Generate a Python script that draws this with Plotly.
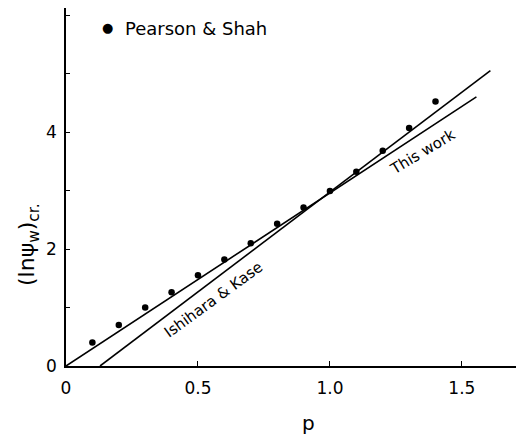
import plotly.graph_objects as go

# Pearson & Shah data points
ps_p = [0.1, 0.2, 0.3, 0.4, 0.5, 0.6, 0.7, 0.8, 0.9, 1.0, 1.1, 1.2, 1.3, 1.4]
ps_y = [0.40, 0.70, 1.00, 1.26, 1.55, 1.82, 2.10, 2.43, 2.71, 2.99, 3.32, 3.68, 4.07, 4.52]

# This work line (end points)
tw_p = [0.0, 1.555]
tw_y = [0.0, 4.60]

# Ishihara & Kase line (end points)
ik_p = [0.129, 1.608]
ik_y = [0.0, 5.05]

x_tickvals = [0, 0.5, 1.0, 1.5]
x_ticktext = ["0", "0.5", "1.0", "1.5"]
y_tickvals = [0, 2, 4]
y_ticktext = ["0", "2", "4"]

FONT = "DejaVu Sans"
W, H = 516, 436
ML, MR, MT, MB = 66, 0, 8, 70
pw, ph = W - ML - MR, H - MT - MB


def px(x):
    return (x - ML) / pw


def py(y):
    return (H - MB - y) / ph


fig = go.Figure()
fig.add_trace(go.Scatter(x=tw_p, y=tw_y, mode="lines",
                         line=dict(color="black", width=1.6), showlegend=False))
fig.add_trace(go.Scatter(x=ik_p, y=ik_y, mode="lines",
                         line=dict(color="black", width=1.6), showlegend=False))
fig.add_trace(go.Scatter(x=ps_p, y=ps_y, mode="markers",
                         marker=dict(color="black", size=6.5), showlegend=False))

fig.update_layout(
    width=W, height=H,
    margin=dict(l=ML, r=MR, t=MT, b=MB, autoexpand=False),
    paper_bgcolor="white", plot_bgcolor="white",
    font=dict(family=FONT, color="black", size=17),
    xaxis=dict(range=[0, 1.705], showgrid=False, zeroline=False,
               showline=True, linecolor="black", linewidth=1.5,
               ticks="inside", ticklen=5, tickwidth=1.3, tickcolor="black",
               tickvals=x_tickvals, ticktext=x_ticktext,
               tickfont=dict(size=17), ticklabelstandoff=6),
    yaxis=dict(range=[0, 6.12], showgrid=False, zeroline=False,
               showline=True, linecolor="black", linewidth=1.5,
               ticks="inside", ticklen=4, tickwidth=1.3, tickcolor="black",
               tickvals=y_tickvals, ticktext=y_ticktext,
               minor=dict(ticks="inside", ticklen=4, tickwidth=1.3,
                          tickcolor="black", dtick=1, showgrid=False),
               tickfont=dict(size=17), ticklabelstandoff=4),
    annotations=[
        dict(text="p", x=px(308), y=py(423), xref="paper", yref="paper",
             xanchor="center", yanchor="middle", showarrow=False,
             font=dict(size=20)),
        dict(text="(lnψ<sub>w</sub>)<sub>cr.</sub>", x=px(28), y=py(245),
             xref="paper", yref="paper", xanchor="center", yanchor="middle",
             showarrow=False, textangle=-90, font=dict(size=22)),
        dict(text="●", x=px(107), y=py(27), xref="paper", yref="paper",
             xanchor="center", yanchor="middle", showarrow=False,
             font=dict(size=13)),
        dict(text="Pearson & Shah", x=px(123), y=py(28), xref="paper", yref="paper",
             xanchor="left", yanchor="middle", showarrow=False,
             font=dict(size=18)),
        dict(text="Ishihara & Kase", x=0.557, y=1.13, xref="x", yref="y",
             showarrow=False, textangle=-36, font=dict(size=15)),
        dict(text="This work", x=1.35, y=3.66, xref="x", yref="y",
             showarrow=False, textangle=-31, font=dict(size=15)),
    ],
)

fig.write_html("out.html", config={"displayModeBar": False},
               post_script="document.body.style.margin='0';document.body.style.overflow='hidden';")
